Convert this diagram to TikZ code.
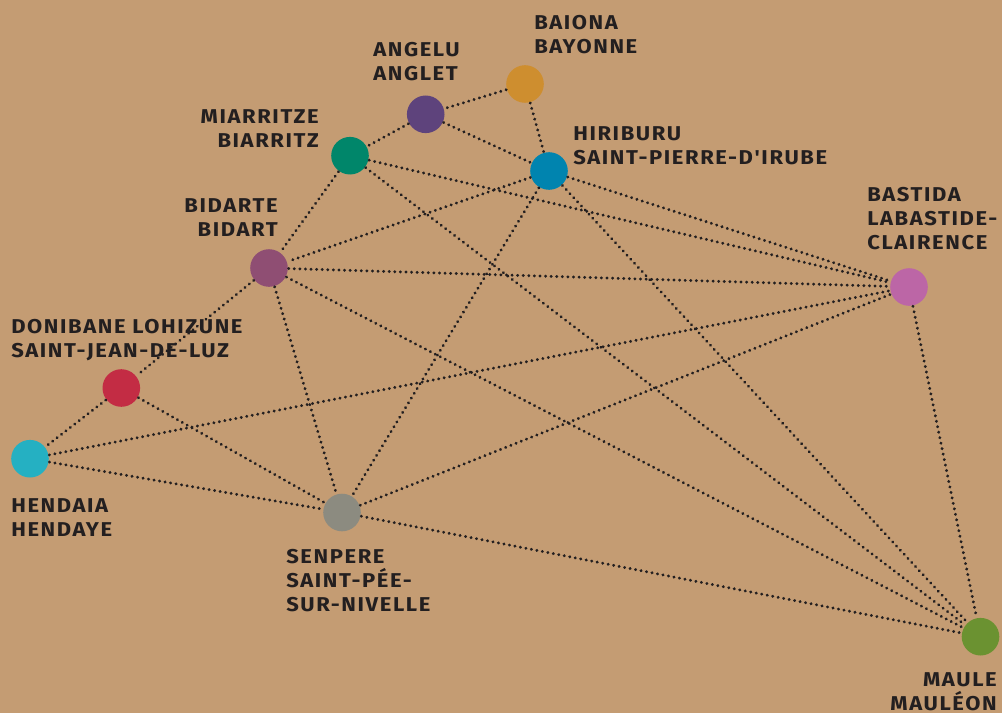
\documentclass[tikz,border=0pt]{standalone}
\usepackage{fontspec}
\setmainfont{Fira Sans}[UprightFont=* SemiBold,BoldFont=* Bold,LetterSpace=8,FakeStretch=1.10,Ligatures=TeXOff]
\definecolor{bg}{HTML}{C49C73}
\definecolor{ink}{HTML}{231F20}
\definecolor{cBaiona}{HTML}{CE8E2F}
\definecolor{cAngelu}{HTML}{5E437C}
\definecolor{cMiarritze}{HTML}{00866A}
\definecolor{cHiriburu}{HTML}{0084AF}
\definecolor{cBidarte}{HTML}{8F4E73}
\definecolor{cDonibane}{HTML}{C32C44}
\definecolor{cHendaia}{HTML}{25B0C2}
\definecolor{cSenpere}{HTML}{8C8B80}
\definecolor{cBastida}{HTML}{BC66A6}
\definecolor{cMaule}{HTML}{6B9231}
\tikzset{
  town/.style={circle,fill=#1,minimum size=28.2pt,inner sep=0pt,outer sep=0.7pt},
  link/.style={draw=ink,line width=2.4pt,line cap=round,dash pattern=on 0.01pt off 4.18pt},
  lbl/.style={inner sep=0pt,text=ink,font=\fontsize{15}{18}\selectfont\bfseries,anchor=north west,align=left},
  lblr/.style={lbl,anchor=north east,align=right}
}
\begin{document}
\begin{tikzpicture}[x=0.75pt,y=-0.75pt]
\fill[bg] (0,0) rectangle (1002,713);
\useasboundingbox (0,0) rectangle (1002,713);
\node[town=cBaiona] (baiona) at (525,84) {};
\node[town=cAngelu] (angelu) at (425.7,114.3) {};
\node[town=cMiarritze] (miarritze) at (350,155.7) {};
\node[town=cHiriburu] (hiriburu) at (549,171) {};
\node[town=cBidarte] (bidarte) at (269,268) {};
\node[town=cDonibane] (donibane) at (121.3,388) {};
\node[town=cHendaia] (hendaia) at (30,458.7) {};
\node[town=cSenpere] (senpere) at (342,512.5) {};
\node[town=cBastida] (bastida) at (909,287) {};
\node[town=cMaule] (maule) at (980.5,636.7) {};
\foreach \a/\b in {baiona/angelu,baiona/hiriburu,angelu/miarritze,angelu/hiriburu,
  miarritze/bidarte,miarritze/bastida,miarritze/maule,
  hiriburu/bidarte,hiriburu/bastida,hiriburu/senpere,hiriburu/maule,
  bidarte/donibane,bidarte/bastida,bidarte/senpere,bidarte/maule,
  donibane/hendaia,donibane/senpere,hendaia/bastida,hendaia/senpere,
  senpere/bastida,senpere/maule,bastida/maule}
  \draw[link] (\a) -- (\b);
\node[lbl] (tBaiona) at (534,15) {BAIONA\\BAYONNE};
\node[lbl] (tAngelu) at (373,42) {ANGELU\\ANGLET};
\node[lblr] (tMiarritze) at (319,109) {MIARRITZE\\BIARRITZ};
\node[lbl] (tHiriburu) at (573,126) {HIRIBURU\\SAINT-PIERRE-D'IRUBE};
\node[lbl] (tBastida) at (867,187) {BASTIDA\\LABASTIDE-\\CLAIRENCE};
\node[lblr] (tBidarte) at (278,198) {BIDARTE\\BIDART};
\node[lbl] (tDonibane) at (11,319) {DONIBANE LOHIZUNE\\SAINT-JEAN-DE-LUZ};
\node[lbl] (tHendaia) at (11,498) {HENDAIA\\HENDAYE};
\node[lbl] (tSenpere) at (286,549) {SENPERE\\SAINT-PÉE-\\SUR-NIVELLE};
\node[lblr] (tMaule) at (997,672) {MAULE\\MAULÉON};
\end{tikzpicture}
\end{document}
